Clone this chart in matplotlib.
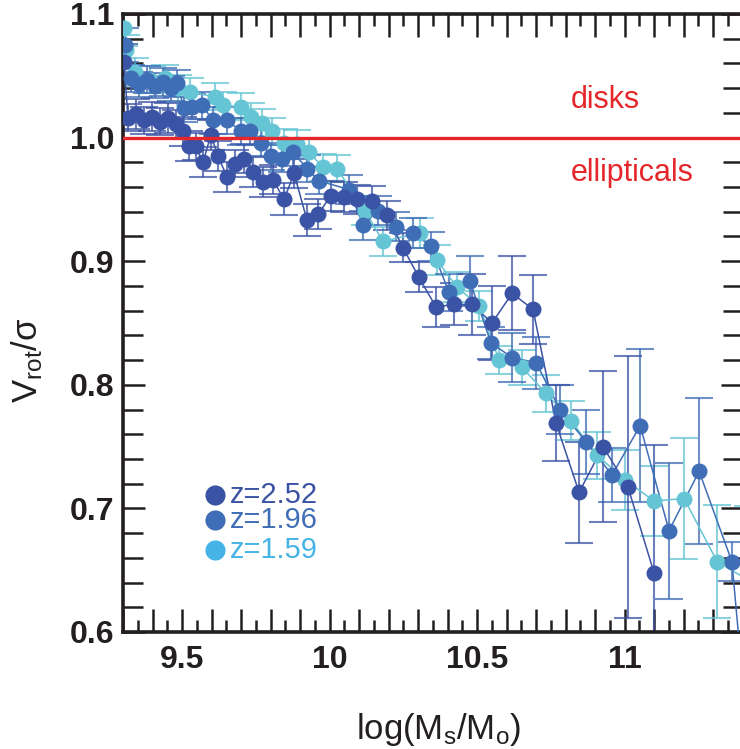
import matplotlib
matplotlib.use("Agg")
import matplotlib.pyplot as plt
from matplotlib.ticker import MultipleLocator, FuncFormatter
from matplotlib import font_manager

# ---------------- data ----------------
dark_x = [9.303, 9.317, 9.344, 9.371, 9.398, 9.425, 9.453, 9.480, 9.503, 9.524,
          9.547, 9.571, 9.598, 9.622, 9.653, 9.680, 9.710, 9.741, 9.775, 9.808,
          9.846, 9.880, 9.924, 9.961, 10.005, 10.049, 10.093, 10.144, 10.195, 10.249,
          10.303, 10.361, 10.422, 10.483, 10.551, 10.619, 10.690, 10.768, 10.846, 10.927,
          11.012, 11.100]
dark_y = [1.061, 1.016, 1.019, 1.014, 1.017, 1.013, 1.016, 1.011, 1.005, 0.993,
          0.993, 0.980, 1.002, 0.985, 0.968, 0.979, 0.983, 0.972, 0.964, 0.966,
          0.950, 0.971, 0.933, 0.938, 0.953, 0.952, 0.950, 0.949, 0.937, 0.911,
          0.887, 0.863, 0.865, 0.865, 0.850, 0.874, 0.861, 0.769, 0.713, 0.750,
          0.717, 0.648]
dark_err = [0.015, 0.011, 0.012, 0.011, 0.012, 0.011, 0.012, 0.011, 0.012, 0.012,
            0.011, 0.012, 0.012, 0.012, 0.012, 0.011, 0.012, 0.012, 0.012, 0.012,
            0.013, 0.012, 0.013, 0.012, 0.012, 0.012, 0.012, 0.012, 0.012, 0.012,
            0.012, 0.016, 0.017, 0.025, 0.030, 0.030, 0.028, 0.031, 0.041, 0.061,
            0.106, 0.103]

mid_x = [9.307, 9.327, 9.354, 9.381, 9.408, 9.436, 9.463, 9.483, 9.507, 9.534,
         9.568, 9.605, 9.653, 9.700, 9.731, 9.768, 9.802, 9.839, 9.876, 9.924,
         9.964, 10.066, 10.114, 10.164, 10.225, 10.283, 10.344, 10.405, 10.476, 10.547,
         10.619, 10.700, 10.781, 10.869, 10.958, 11.053, 11.151, 11.253, 11.364, 11.408]
mid_y = [1.075, 1.048, 1.043, 1.047, 1.042, 1.045, 1.040, 1.044, 1.024, 1.025,
         1.026, 1.014, 1.014, 1.005, 1.005, 0.996, 0.985, 0.983, 0.988, 0.975,
         0.965, 0.958, 0.929, 0.941, 0.928, 0.923, 0.912, 0.875, 0.884, 0.834,
         0.822, 0.818, 0.780, 0.754, 0.727, 0.767, 0.682, 0.730, 0.657, 0.541]
mid_err = [0.014, 0.011, 0.010, 0.011, 0.010, 0.011, 0.010, 0.011, 0.011, 0.010,
           0.011, 0.011, 0.011, 0.011, 0.011, 0.011, 0.011, 0.011, 0.011, 0.011,
           0.011, 0.012, 0.012, 0.012, 0.012, 0.012, 0.012, 0.015, 0.020, 0.013,
           0.020, 0.021, 0.020, 0.026, 0.022, 0.062, 0.055, 0.059, 0.016, 0.050]

cyan_x = [9.303, 9.310, 9.341, 9.392, 9.442, 9.486, 9.527, 9.612, 9.639, 9.700,
          9.734, 9.771, 9.805, 9.846, 9.890, 9.931, 9.978, 10.025, 10.120, 10.181,
          10.307, 10.364, 10.432, 10.507, 10.575, 10.653, 10.734, 10.819, 10.907, 11.002,
          11.100, 11.202, 11.314, 11.419]
cyan_y = [1.089, 1.071, 1.053, 1.047, 1.048, 1.040, 1.037, 1.033, 1.026, 1.025,
          1.017, 1.012, 1.005, 0.996, 0.995, 0.988, 0.976, 0.975, 0.941, 0.916,
          0.923, 0.901, 0.879, 0.864, 0.820, 0.814, 0.793, 0.771, 0.743, 0.723,
          0.706, 0.708, 0.657, 0.642]
cyan_err = [0.015, 0.012, 0.011, 0.011, 0.011, 0.011, 0.011, 0.011, 0.011, 0.011,
            0.011, 0.011, 0.011, 0.011, 0.011, 0.011, 0.011, 0.011, 0.012, 0.012,
            0.012, 0.012, 0.012, 0.012, 0.011, 0.014, 0.015, 0.016, 0.019, 0.024,
            0.028, 0.049, 0.046, 0.060]

series_labels = ["z=2.52", "z=1.96", "z=1.59"]
y_ticks = [0.6, 0.7, 0.8, 0.9, 1.0, 1.1]
x_label_ticks = [9.5, 10.0, 10.5, 11.0]
threshold = 1.0

# ---------------- style ----------------
def has_font(name):
    return any(f.name == name for f in font_manager.fontManager.ttflist)

narrow = "Liberation Sans Narrow" if has_font("Liberation Sans Narrow") else "Liberation Sans"
plt.rcParams["font.family"] = ["Liberation Sans", "DejaVu Sans"]
plt.rcParams["mathtext.fontset"] = "custom"
plt.rcParams["mathtext.rm"] = narrow
plt.rcParams["mathtext.it"] = narrow

INK = "#231f20"
C_DARK = "#3b53a4"
C_MID = "#3f6db6"
C_CYAN = "#66c5d4"
C_LEG_CYAN = "#45b3e6"
RED = "#e5262a"

fig = plt.figure(figsize=(7.40, 7.49), dpi=100)
ax = fig.add_axes([123 / 740, (749 - 632) / 749, 619.5 / 740, 618 / 749])

for xs, ys, es, col in [(cyan_x, cyan_y, cyan_err, C_CYAN),
                        (mid_x, mid_y, mid_err, C_MID),
                        (dark_x, dark_y, dark_err, C_DARK)]:
    eb = ax.errorbar(xs, ys, yerr=es, fmt="none", ecolor=col, elinewidth=1.5,
                     capsize=10, capthick=1.5, alpha=0.75, zorder=2)
    ax.plot(xs, ys, "-", color=col, lw=1.1, zorder=3)
    ax.plot(xs, ys, "o", color=col, ms=11.5, mec="none", zorder=4)

ax.axhline(threshold, color=RED, lw=2.4, zorder=6)

ax.set_xlim(9.3, 11.4)
ax.set_ylim(0.6, 1.1)

ax.xaxis.set_major_locator(MultipleLocator(0.1))
ax.xaxis.set_minor_locator(MultipleLocator(0.05))
def xfmt(v, pos):
    for t in x_label_ticks:
        if abs(v - t) < 1e-6:
            return ("%g" % t)
    return ""
ax.xaxis.set_major_formatter(FuncFormatter(xfmt))
ax.yaxis.set_major_locator(MultipleLocator(0.1))
ax.yaxis.set_minor_locator(MultipleLocator(0.02))
ax.yaxis.set_major_formatter(FuncFormatter(lambda v, p: "%.1f" % v))

ax.tick_params(which="both", direction="in", top=True, right=True, color=INK,
               width=1.8)
ax.tick_params(axis="x", which="major", length=16.5, pad=9)
ax.tick_params(axis="x", which="minor", length=8.5)
ax.tick_params(axis="y", which="major", length=16, pad=6)
ax.tick_params(axis="y", which="minor", length=14.5)
for lab in ax.get_xticklabels() + ax.get_yticklabels():
    lab.set_fontweight("bold")
    lab.set_fontsize(23)
    lab.set_color(INK)

for s in ax.spines.values():
    s.set_linewidth(2.6)
    s.set_color(INK)

ax.set_xlabel(r"$\mathregular{log(M_s/M_o)}$", fontsize=25, color=INK)
ax.xaxis.set_label_coords(0.51, -0.128)
ax.set_ylabel(r"$\mathregular{V_{rot}/\sigma}$", fontsize=25, color=INK,
              va="center", ha="center")
ax.yaxis.set_label_coords(-0.155, 0.44)

ax.text(0.723, 0.861, "disks", transform=ax.transAxes, color=RED, fontsize=22,
        ha="left", va="center")
ax.text(0.723, 0.743, "ellipticals", transform=ax.transAxes, color=RED, fontsize=22,
        ha="left", va="center")

# legend
leg_cols_marker = [C_DARK, C_MID, C_LEG_CYAN]
leg_cols_text = [C_DARK, C_MID, C_LEG_CYAN]
leg_y = [0.2217, 0.1812, 0.1327]
for lab, cm, ct, yy in zip(series_labels, leg_cols_marker, leg_cols_text, leg_y):
    ax.plot([0.1485], [yy], "o", ms=14.5, color=cm, mec="none",
            transform=ax.transAxes, clip_on=False, zorder=7)
    ax.text(0.172, yy, lab, transform=ax.transAxes, color=ct, fontsize=21,
            ha="left", va="center", zorder=7)

fig.savefig("out.png", dpi=100)
